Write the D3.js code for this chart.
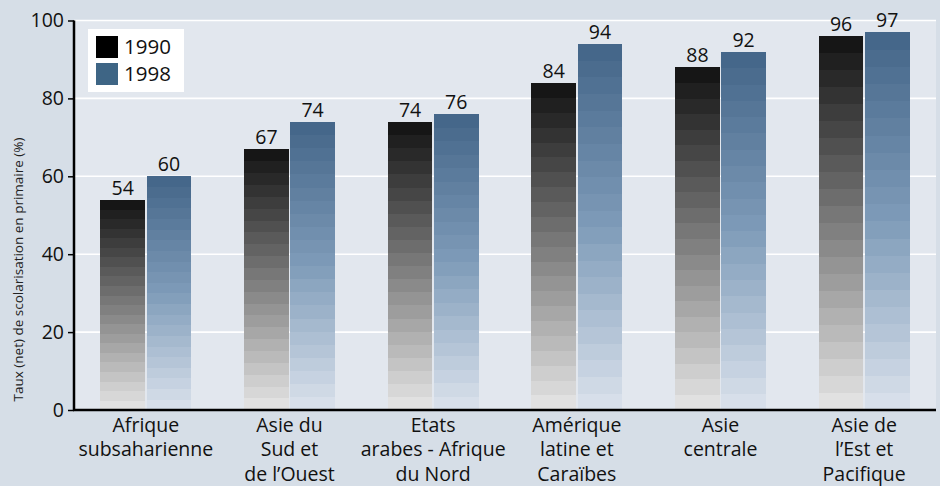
<!DOCTYPE html>
<html>
<head>
<meta charset="utf-8">
<script src="https://cdn.jsdelivr.net/npm/d3@7"></script>
<style>
  html, body { margin: 0; padding: 0; background: #d6dee7; }
  svg { display: block; font-family: "Open Sans", "Noto Sans", sans-serif; }
</style>
</head>
<body>
<svg id="chart" width="940" height="486"></svg>
<script>
const categories = [
  ["Afrique", "subsaharienne"],
  ["Asie du", "Sud et", "de l\u2019Ouest"],
  ["Etats", "arabes - Afrique", "du Nord"],
  ["Am\u00e9rique", "latine et", "Cara\u00efbes"],
  ["Asie", "centrale"],
  ["Asie de", "l\u2019Est et", "Pacifique"]
];
const seriesNames = ["1990", "1998"];
const values1990 = [54, 67, 74, 84, 88, 96];
const values1998 = [60, 74, 76, 94, 92, 97];
const yTicks = [0, 20, 40, 60, 80, 100];
const yTitle = "Taux (net) de scolarisation en primaire (%)";

const W = 940, H = 486;
const margin = { left: 74, right: 4, top: 20.5, bottom: 76 };
const svg = d3.select("#chart");

const catKeys = categories.map(c => c.join(" "));
const x = d3.scaleBand().domain(catKeys).range([margin.left, W - margin.right])
  .paddingInner(0.367).paddingOuter(0.1835);
const xs = d3.scaleBand().domain(seriesNames).range([0, x.bandwidth()]).paddingInner(0.03);
const y = d3.scaleLinear().domain([0, 100]).range([H - margin.bottom, margin.top]);

// plot area background
svg.append("rect")
  .attr("x", margin.left).attr("y", margin.top)
  .attr("width", W - margin.right - margin.left)
  .attr("height", y(0) - margin.top)
  .attr("fill", "#e2e7ee");

// gridlines
svg.append("g").selectAll("line").data(yTicks.filter(d => d > 0)).join("line")
  .attr("x1", margin.left).attr("x2", W - margin.right)
  .attr("y1", d => y(d)).attr("y2", d => y(d))
  .attr("stroke", "#ffffff").attr("stroke-width", 1.6);

const nBands = 22;
const grayScale = d3.scaleLinear().domain([0, 1]).range(["#e1e1e1", "#161616"]);
const blueScale = d3.scaleLinear().domain([0, 0.5, 1]).range(["#d7dfea", "#7f9cb9", "#45678a"]);
const colorFns = { "1990": grayScale, "1998": blueScale };

const data = [];
catKeys.forEach((k, i) => {
  data.push({ cat: k, s: "1990", v: values1990[i] });
  data.push({ cat: k, s: "1998", v: values1998[i] });
});

const bars = svg.append("g").selectAll("g").data(data).join("g")
  .attr("transform", d => `translate(${x(d.cat) + xs(d.s)},0)`);

bars.each(function(d) {
  const g = d3.select(this);
  const top = y(d.v), bottom = y(0);
  const h = (bottom - top) / nBands;
  const fn = colorFns[d.s];
  const bands = d3.range(nBands);
  g.selectAll("rect").data(bands).join("rect")
    .attr("x", 0)
    .attr("width", xs.bandwidth())
    .attr("y", i => bottom - (i + 1) * h)
    .attr("height", h + 0.3)
    .attr("fill", i => fn(i / (nBands - 1)))
    .attr("shape-rendering", "crispEdges");
});

// value labels
svg.append("g").selectAll("text").data(data).join("text")
  .attr("x", d => x(d.cat) + xs(d.s) + xs.bandwidth() / 2)
  .attr("y", d => y(d.v) - 5)
  .attr("text-anchor", "middle")
  .attr("font-size", 19.5)
  .attr("fill", "#111")
  .text(d => d.v);

// y axis
const yAxis = d3.axisLeft(y).tickValues(yTicks).tickSize(6).tickPadding(4);
const ga = svg.append("g").attr("transform", `translate(${margin.left},0)`).call(yAxis);
ga.select(".domain").attr("stroke", "#000").attr("stroke-width", 2.5)
  .attr("d", `M0,${y(100)}V${y(0)}`);
ga.selectAll(".tick line").attr("stroke", "#000").attr("stroke-width", 1.5);
ga.selectAll(".tick text").attr("font-size", 19.5).attr("fill", "#111")
  .attr("font-family", "'Open Sans', sans-serif");

// x axis
const xAxis = d3.axisBottom(x).tickSize(0).tickFormat(() => "");
const gx = svg.append("g").attr("transform", `translate(0,${y(0)})`).call(xAxis);
gx.select(".domain").attr("stroke", "#000").attr("stroke-width", 2.5)
  .attr("d", `M${margin.left - 1},0H${W - margin.right}`);

// category labels
const catG = svg.append("g").selectAll("text").data(categories).join("text")
  .attr("text-anchor", "middle")
  .attr("font-size", 19.5)
  .attr("fill", "#111")
  .attr("transform", (c, i) => `translate(${x(catKeys[i]) + x.bandwidth() / 2},${y(0) + 21.5})`);
catG.selectAll("tspan").data(c => c).join("tspan")
  .attr("x", 0)
  .attr("dy", (t, j) => j === 0 ? 0 : 24.5)
  .text(t => t);

// y title
svg.append("text")
  .attr("transform", `translate(23,${(y(0) + 129) / 2}) rotate(-90)`)
  .attr("text-anchor", "middle")
  .attr("font-size", 13.5)
  .attr("fill", "#222")
  .text(yTitle);

// legend
const lg = svg.append("g");
lg.append("rect").attr("x", 88).attr("y", 29).attr("width", 96).attr("height", 63).attr("fill", "#fff");
const legendColors = { "1990": "#000000", "1998": "#3e6585" };
seriesNames.forEach((s, i) => {
  lg.append("rect").attr("x", 96).attr("y", 36 + i * 27).attr("width", 22).attr("height", 22)
    .attr("fill", legendColors[s]);
  lg.append("text").attr("x", 124).attr("y", 54 + i * 27).attr("font-size", 20.5)
    .attr("fill", "#111").text(s);
});
</script>
</body>
</html>
